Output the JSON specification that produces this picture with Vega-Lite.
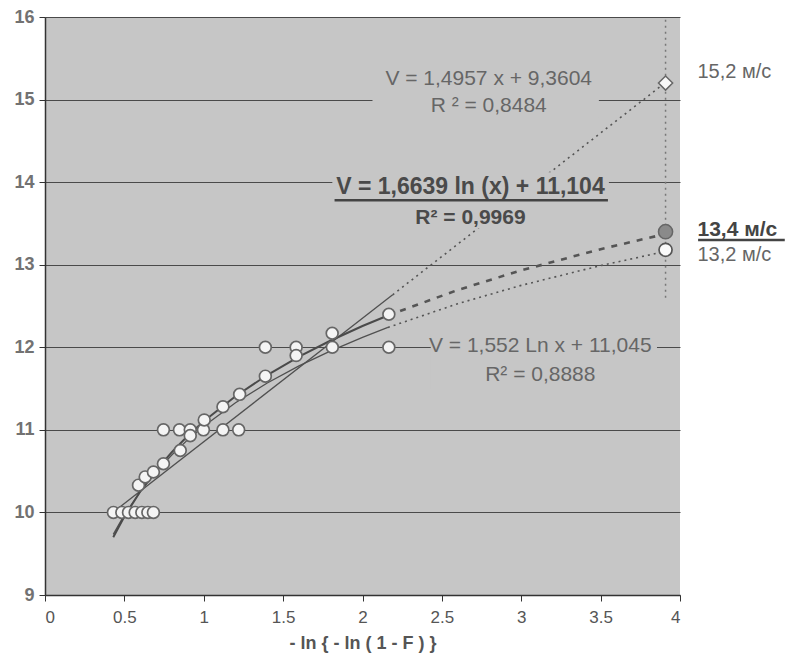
{
  "$schema": "https://vega.github.io/schema/vega-lite/v6.json",
  "width": 635,
  "height": 578,
  "autosize": {"type": "none"},
  "padding": {"left": 45, "top": 17, "right": 105, "bottom": 74},
  "background": "#ffffff",
  "config": {"view": {"fill": "#c6c6c6", "stroke": null}, "font": "Liberation Sans"},
  "datasets": {
    "trend": [
      {"fit": "lin", "part": "solid", "x": 0.43, "y": 10.0036},
      {"fit": "lin", "part": "solid", "x": 2.19, "y": 12.636},
      {"fit": "lin", "part": "ext", "x": 2.19, "y": 12.636},
      {"fit": "lin", "part": "ext", "x": 3.905, "y": 15.2011},
      {"fit": "log1", "part": "solid", "x": 0.43, "y": 9.6997},
      {"fit": "log1", "part": "solid", "x": 0.5, "y": 9.9507},
      {"fit": "log1", "part": "solid", "x": 0.6, "y": 10.254},
      {"fit": "log1", "part": "solid", "x": 0.7, "y": 10.5105},
      {"fit": "log1", "part": "solid", "x": 0.8, "y": 10.7327},
      {"fit": "log1", "part": "solid", "x": 0.9, "y": 10.9287},
      {"fit": "log1", "part": "solid", "x": 1.0, "y": 11.104},
      {"fit": "log1", "part": "solid", "x": 1.2, "y": 11.4074},
      {"fit": "log1", "part": "solid", "x": 1.4, "y": 11.6639},
      {"fit": "log1", "part": "solid", "x": 1.6, "y": 11.886},
      {"fit": "log1", "part": "solid", "x": 1.8, "y": 12.082},
      {"fit": "log1", "part": "solid", "x": 2.0, "y": 12.2573},
      {"fit": "log1", "part": "solid", "x": 2.16, "y": 12.3854},
      {"fit": "log1", "part": "ext", "x": 2.16, "y": 12.3854},
      {"fit": "log1", "part": "ext", "x": 2.6, "y": 12.6938},
      {"fit": "log1", "part": "ext", "x": 3.0, "y": 12.932},
      {"fit": "log1", "part": "ext", "x": 3.5, "y": 13.1885},
      {"fit": "log1", "part": "ext", "x": 3.9, "y": 13.3686},
      {"fit": "log2", "part": "solid", "x": 0.43, "y": 9.7351},
      {"fit": "log2", "part": "solid", "x": 0.5, "y": 9.9693},
      {"fit": "log2", "part": "solid", "x": 0.6, "y": 10.2522},
      {"fit": "log2", "part": "solid", "x": 0.7, "y": 10.4914},
      {"fit": "log2", "part": "solid", "x": 0.8, "y": 10.6987},
      {"fit": "log2", "part": "solid", "x": 0.9, "y": 10.8814},
      {"fit": "log2", "part": "solid", "x": 1.0, "y": 11.045},
      {"fit": "log2", "part": "solid", "x": 1.2, "y": 11.328},
      {"fit": "log2", "part": "solid", "x": 1.4, "y": 11.5672},
      {"fit": "log2", "part": "solid", "x": 1.6, "y": 11.7744},
      {"fit": "log2", "part": "solid", "x": 1.8, "y": 11.9573},
      {"fit": "log2", "part": "solid", "x": 2.0, "y": 12.1207},
      {"fit": "log2", "part": "solid", "x": 2.16, "y": 12.2399},
      {"fit": "log2", "part": "ext", "x": 2.16, "y": 12.2399},
      {"fit": "log2", "part": "ext", "x": 2.6, "y": 12.5279},
      {"fit": "log2", "part": "ext", "x": 3.0, "y": 12.75},
      {"fit": "log2", "part": "ext", "x": 3.5, "y": 12.9893},
      {"fit": "log2", "part": "ext", "x": 3.9, "y": 13.1573}
    ],
    "obs": [
      {"x": 0.431, "y": 10}, {"x": 0.484, "y": 10}, {"x": 0.526, "y": 10}, {"x": 0.568, "y": 10},
      {"x": 0.61, "y": 10}, {"x": 0.648, "y": 10}, {"x": 0.683, "y": 10},
      {"x": 0.746, "y": 11}, {"x": 0.847, "y": 11}, {"x": 0.915, "y": 11}, {"x": 0.998, "y": 11},
      {"x": 1.121, "y": 11}, {"x": 1.22, "y": 11},
      {"x": 1.388, "y": 12}, {"x": 1.582, "y": 12}, {"x": 1.81, "y": 12}, {"x": 2.166, "y": 12},
      {"x": 0.589, "y": 10.33}, {"x": 0.631, "y": 10.43}, {"x": 0.683, "y": 10.49}, {"x": 0.746, "y": 10.59},
      {"x": 0.852, "y": 10.75}, {"x": 0.915, "y": 10.93}, {"x": 1.003, "y": 11.12}, {"x": 1.121, "y": 11.28},
      {"x": 1.226, "y": 11.43}, {"x": 1.388, "y": 11.65}, {"x": 1.582, "y": 11.9}, {"x": 1.809, "y": 12.17},
      {"x": 2.166, "y": 12.4}
    ],
    "boxes": [
      {"x": 2.063, "x2": 3.489, "y": 15.45, "y2": 14.78},
      {"x": 1.81, "x2": 3.552, "y": 14.12, "y2": 13.44},
      {"x": 2.43, "x2": 3.855, "y": 12.17, "y2": 11.5}
    ],
    "labels": [
      {"g": "a", "x": 2.795, "y": 15.25, "t": "V = 1,4957 x + 9,3604"},
      {"g": "a", "x": 2.795, "y": 14.92, "t": "R ² = 0,8484"},
      {"g": "b", "x": 2.68, "y": 13.94, "t": "V = 1,6639 ln (x) + 11,104"},
      {"g": "b2", "x": 2.68, "y": 13.56, "t": "R² = 0,9969"},
      {"g": "c", "x": 3.12, "y": 12.01, "t": "V = 1,552 Ln x + 11,045"},
      {"g": "c", "x": 3.12, "y": 11.66, "t": "R² = 0,8888"},
      {"g": "r", "x": 4.11, "y": 15.33, "t": "15,2 м/с"},
      {"g": "rb", "x": 4.11, "y": 13.42, "t": "13,4 м/с"},
      {"g": "r", "x": 4.11, "y": 13.12, "t": "13,2 м/с"}
    ],
    "underlines": [
      {"x": 1.824, "x2": 3.546, "y": 13.78},
      {"x": 4.114, "x2": 4.66, "y": 13.3}
    ],
    "forecast": [
      {"kind": "lin", "x": 3.909, "y": 15.2},
      {"kind": "log1", "x": 3.909, "y": 13.4},
      {"kind": "log2", "x": 3.909, "y": 13.18}
    ],
    "vline": [{"x": 3.909, "y": 12.6, "y2": 16}]
  },
  "encoding": {
    "x": {
      "field": "x", "type": "quantitative",
      "scale": {"domain": [0, 4], "nice": false, "zero": false},
      "axis": {
        "values": [0, 0.5, 1, 1.5, 2, 2.5, 3, 3.5, 4], "format": "~g", "grid": false,
        "domainColor": "#333", "domainWidth": 1.5, "tickColor": "#333", "tickSize": 6,
        "labelFontSize": 17, "labelColor": "#555", "labelPadding": 8,
        "title": "- ln { - ln ( 1 - F ) }", "titleFontSize": 18, "titleFontWeight": "bold",
        "titleColor": "#555", "titlePadding": 9
      }
    },
    "y": {
      "field": "y", "type": "quantitative",
      "scale": {"domain": [9, 16], "nice": false, "zero": false},
      "axis": {
        "values": [9, 10, 11, 12, 13, 14, 15, 16], "grid": true, "gridColor": "#4a4a4a", "gridWidth": 1,
        "domainColor": "#333", "domainWidth": 1.5, "tickColor": "#333", "tickSize": 6,
        "labelFontSize": 18, "labelFontWeight": "bold", "labelColor": "#727272", "labelPadding": 5,
        "title": null
      }
    }
  },
  "layer": [
    {
      "data": {"name": "trend"},
      "transform": [{"filter": "datum.part === 'solid' && datum.fit !== 'log1'"}],
      "mark": {"type": "line", "color": "#505050", "strokeWidth": 1.3},
      "encoding": {"detail": {"field": "fit"}}
    },
    {
      "data": {"name": "trend"},
      "transform": [{"filter": "datum.part === 'solid' && datum.fit === 'log1'"}],
      "mark": {"type": "line", "color": "#4a4a4a", "strokeWidth": 2},
      "encoding": {}
    },
    {
      "data": {"name": "trend"},
      "transform": [{"filter": "datum.part === 'ext' && datum.fit !== 'log1'"}],
      "mark": {"type": "line", "color": "#555", "strokeWidth": 1.6, "strokeDash": [2, 4]},
      "encoding": {"detail": {"field": "fit"}}
    },
    {
      "data": {"name": "trend"},
      "transform": [{"filter": "datum.part === 'ext' && datum.fit === 'log1'"}],
      "mark": {"type": "line", "color": "#555", "strokeWidth": 2.6, "strokeDash": [6, 7]},
      "encoding": {}
    },
    {
      "data": {"name": "vline"},
      "mark": {"type": "rule", "color": "#777", "strokeWidth": 1.5, "strokeDash": [2, 4]},
      "encoding": {"y2": {"field": "y2"}}
    },
    {
      "data": {"name": "boxes"},
      "mark": {"type": "rect", "color": "#c6c6c6"},
      "encoding": {"x2": {"field": "x2"}, "y2": {"field": "y2"}}
    },
    {
      "data": {"name": "obs"},
      "mark": {"type": "point", "shape": "circle", "filled": true, "fill": "#f4f4f4", "stroke": "#666", "strokeWidth": 1.7, "size": 140, "opacity": 1}
    },
    {
      "data": {"name": "forecast"},
      "transform": [{"filter": "datum.kind === 'lin'"}],
      "mark": {"type": "point", "shape": "diamond", "filled": true, "fill": "#f8f8f8", "stroke": "#666", "strokeWidth": 1.5, "size": 200, "opacity": 1}
    },
    {
      "data": {"name": "forecast"},
      "transform": [{"filter": "datum.kind === 'log1'"}],
      "mark": {"type": "point", "shape": "circle", "filled": true, "fill": "#8a8a8a", "stroke": "#666", "strokeWidth": 1.5, "size": 200, "opacity": 1}
    },
    {
      "data": {"name": "forecast"},
      "transform": [{"filter": "datum.kind === 'log2'"}],
      "mark": {"type": "point", "shape": "circle", "filled": true, "fill": "#fafafa", "stroke": "#555", "strokeWidth": 1.7, "size": 170, "opacity": 1}
    },
    {
      "data": {"name": "underlines"},
      "mark": {"type": "rule", "color": "#444", "strokeWidth": 2.5},
      "encoding": {"x2": {"field": "x2"}}
    },
    {
      "data": {"name": "labels"},
      "transform": [{"filter": "datum.g === 'a' || datum.g === 'c'"}],
      "mark": {"type": "text", "fontSize": 21, "color": "#666", "align": "center", "baseline": "middle"},
      "encoding": {"text": {"field": "t"}}
    },
    {
      "data": {"name": "labels"},
      "transform": [{"filter": "datum.g === 'b'"}],
      "mark": {"type": "text", "fontSize": 23, "fontWeight": "bold", "color": "#4a4a4a", "align": "center", "baseline": "middle"},
      "encoding": {"text": {"field": "t"}}
    },
    {
      "data": {"name": "labels"},
      "transform": [{"filter": "datum.g === 'b2'"}],
      "mark": {"type": "text", "fontSize": 21, "fontWeight": "bold", "color": "#4a4a4a", "align": "center", "baseline": "middle"},
      "encoding": {"text": {"field": "t"}}
    },
    {
      "data": {"name": "labels"},
      "transform": [{"filter": "datum.g === 'r'"}],
      "mark": {"type": "text", "fontSize": 20, "color": "#666", "align": "left", "baseline": "middle"},
      "encoding": {"text": {"field": "t"}}
    },
    {
      "data": {"name": "labels"},
      "transform": [{"filter": "datum.g === 'rb'"}],
      "mark": {"type": "text", "fontSize": 21, "fontWeight": "bold", "color": "#444", "align": "left", "baseline": "middle"},
      "encoding": {"text": {"field": "t"}}
    }
  ]
}
